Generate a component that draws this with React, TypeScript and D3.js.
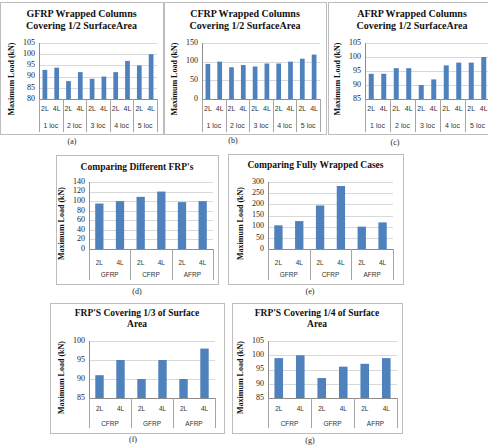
import React from 'react';
import * as d3 from 'd3';

// Category labels
const locGroups = ['1 loc', '2 loc', '3 loc', '4 loc', '5 loc'];
const layerLabels = ['2L', '4L'];
const frpOrderGCA = ['GFRP', 'CFRP', 'AFRP'];
const frpOrderCGA = ['CFRP', 'GFRP', 'AFRP'];

// Maximum load (kN), ordered group by group, 2L then 4L
const gfrpHalf = [93, 94, 88, 92, 89, 90, 92, 97, 95, 100];
const cfrpHalf = [94, 100, 85, 91, 87, 95, 95, 100, 108, 119];
const afrpHalf = [94, 94, 96, 96, 90, 92, 97, 98, 98, 100];
const differentFrp = [95, 100, 109, 120, 98, 100];
const fullyWrapped = [106, 125, 195, 282, 100, 119];
const thirdSurface = [91, 95, 90, 95, 90, 98];
const quarterSurface = [99, 100, 92, 96, 97, 99];

// Value-axis ticks
const ticksGfrpHalf = [80, 85, 90, 95, 100, 105];
const ticksCfrpHalf = [0, 50, 100, 150];
const ticksAfrpHalf = [85, 90, 95, 100, 105];
const ticksDifferent = [0, 20, 40, 60, 80, 100, 120, 140];
const ticksFully = [0, 50, 100, 150, 200, 250, 300];
const ticksThird = [85, 90, 95, 100];
const ticksQuarter = [85, 90, 95, 100, 105];

const BAR = '#4f81bd';
const SERIF = "'Liberation Serif', 'Times New Roman', serif";
const SANS = "'Liberation Sans', Arial, sans-serif";

type Box = { x0: number; y0: number; x1: number; y1: number };
type Plot = { l: number; r: number; t: number; b: number };

interface PanelProps {
  box: Box;
  plot: Plot;
  title: string[];
  titleY: number[];
  titleSize: number;
  groups: string[];
  values: number[];
  ticks: number[];
  caption: string;
  captionX: number;
  captionY: number;
  rowY: [number, number];
  depth: number;
  labelSize: number;
}

function Panel(p: PanelProps) {
  const { box, plot, groups, values, ticks } = p;
  const outer = d3.scaleBand<string>().domain(groups).range([plot.l, plot.r]).padding(0);
  const bars = d3
    .scaleBand<string>()
    .domain(layerLabels)
    .range([0, outer.bandwidth()])
    .paddingInner(0.6)
    .paddingOuter(0.3);
  const slots = d3.scaleBand<string>().domain(layerLabels).range([0, outer.bandwidth()]);
  const y = d3
    .scaleLinear()
    .domain([ticks[0], ticks[ticks.length - 1]])
    .range([plot.b, plot.t]);

  const boundaries = groups.map((g) => outer(g) as number).concat([plot.r]);
  const titleCx = (box.x0 + box.x1) / 2;

  return (
    <g>
      <rect
        x={box.x0 + 0.5}
        y={box.y0 + 0.5}
        width={box.x1 - box.x0}
        height={box.y1 - box.y0}
        fill="#ffffff"
        stroke="#bdbdbd"
        strokeWidth={1}
      />
      {p.title.map((t, i) => (
        <text
          key={i}
          x={titleCx}
          y={p.titleY[i]}
          textAnchor="middle"
          dominantBaseline="middle"
          fontFamily={SERIF}
          fontWeight="bold"
          fontSize={p.titleSize}
          fill="#111"
        >
          {t}
        </text>
      ))}
      {/* gridlines */}
      {ticks.slice(1).map((t) => (
        <line
          key={'g' + t}
          x1={plot.l}
          x2={plot.r}
          y1={Math.round(y(t)) + 0.5}
          y2={Math.round(y(t)) + 0.5}
          stroke="#d9d9d9"
          strokeWidth={1}
        />
      ))}
      {/* value-axis tick labels */}
      {ticks.map((t) => (
        <text
          key={'t' + t}
          x={plot.l - 4}
          y={y(t)}
          textAnchor="end"
          dominantBaseline="middle"
          fontFamily={SERIF}
          fontSize={8}
          fill="#222"
        >
          {t}
        </text>
      ))}
      <text
        transform={`translate(${plot.l - 27},${(plot.t + plot.b) / 2 + 8}) rotate(-90)`}
        textAnchor="middle"
        dominantBaseline="middle"
        fontFamily={SERIF}
        fontWeight="bold"
        fontSize={8}
        fill="#111"
      >
        Maximum Load (kN)
      </text>
      {/* bars */}
      {values.map((v, i) => {
        const g = groups[Math.floor(i / 2)];
        const layer = layerLabels[i % 2];
        const x = (outer(g) as number) + (bars(layer) as number);
        return (
          <rect key={'b' + i} x={x} y={y(v)} width={bars.bandwidth()} height={plot.b - y(v)} fill={BAR} />
        );
      })}
      {/* axes */}
      <line x1={plot.l} x2={plot.r} y1={plot.b + 0.5} y2={plot.b + 0.5} stroke="#8c8c8c" />
      <line x1={plot.l + 0.5} x2={plot.l + 0.5} y1={plot.t} y2={plot.b} stroke="#8c8c8c" />
      {boundaries.map((bx, i) => (
        <line
          key={'d' + i}
          x1={Math.round(bx) + 0.5}
          x2={Math.round(bx) + 0.5}
          y1={plot.b}
          y2={plot.b + p.depth}
          stroke="#a6a6a6"
        />
      ))}
      {groups.map((g) => (
        <g key={'c' + g}>
          {layerLabels.map((l) => (
            <text
              key={l}
              x={(outer(g) as number) + (slots(l) as number) + slots.bandwidth() / 2}
              y={p.rowY[0]}
              textAnchor="middle"
              dominantBaseline="middle"
              fontFamily={SANS}
              fontSize={p.labelSize}
              fill="#333"
            >
              {l}
            </text>
          ))}
          <text
            x={(outer(g) as number) + outer.bandwidth() / 2}
            y={p.rowY[1]}
            textAnchor="middle"
            dominantBaseline="middle"
            fontFamily={SANS}
            fontSize={p.labelSize}
            fill="#333"
          >
            {g}
          </text>
        </g>
      ))}
      <text
        x={p.captionX}
        y={p.captionY}
        textAnchor="middle"
        dominantBaseline="middle"
        fontFamily={SERIF}
        fontSize={8}
        fill="#222"
      >
        {p.caption}
      </text>
    </g>
  );
}

export default function App() {
  return (
    <svg
      width={488}
      height={448}
      viewBox="0 0 488 448"
      style={{ position: 'absolute', left: 0, top: 0, background: '#fff' }}
    >
      <rect x={0} y={0} width={488} height={448} fill="#fff" />
      <Panel
        box={{ x0: 0, y0: 2, x1: 163, y1: 134 }}
        plot={{ l: 39, r: 157, t: 43, b: 99 }}
        title={['GFRP Wrapped Columns', 'Covering 1/2  SurfaceArea']}
        titleY={[15, 27]}
        titleSize={10}
        groups={locGroups}
        values={gfrpHalf}
        ticks={ticksGfrpHalf}
        caption="(a)"
        captionX={72}
        captionY={142}
        rowY={[109, 126]}
        depth={33}
        labelSize={7}
      />
      <Panel
        box={{ x0: 164, y0: 2, x1: 326, y1: 134 }}
        plot={{ l: 202, r: 320, t: 43, b: 99 }}
        title={['CFRP Wrapped Columns', 'Covering 1/2  SurfaceArea']}
        titleY={[15, 27]}
        titleSize={10}
        groups={locGroups}
        values={cfrpHalf}
        ticks={ticksCfrpHalf}
        caption="(b)"
        captionX={233}
        captionY={141}
        rowY={[109, 126]}
        depth={33}
        labelSize={7}
      />
      <Panel
        box={{ x0: 328, y0: 2, x1: 496, y1: 134 }}
        plot={{ l: 365, r: 490, t: 43, b: 99 }}
        title={['AFRP Wrapped Columns', 'Covering 1/2  SurfaceArea']}
        titleY={[15, 27]}
        titleSize={10}
        groups={locGroups}
        values={afrpHalf}
        ticks={ticksAfrpHalf}
        caption="(c)"
        captionX={395}
        captionY={143}
        rowY={[109, 126]}
        depth={33}
        labelSize={7}
      />
      <Panel
        box={{ x0: 56, y0: 155, x1: 218, y1: 284 }}
        plot={{ l: 89, r: 213, t: 182, b: 249 }}
        title={["Comparing Different FRP's"]}
        titleY={[168]}
        titleSize={9.5}
        groups={frpOrderGCA}
        values={differentFrp}
        ticks={ticksDifferent}
        caption="(d)"
        captionX={137}
        captionY={292}
        rowY={[263, 275]}
        depth={31}
        labelSize={6.5}
      />
      <Panel
        box={{ x0: 228, y0: 154, x1: 403, y1: 284 }}
        plot={{ l: 268, r: 393, t: 182, b: 249 }}
        title={['Comparing Fully Wrapped Cases']}
        titleY={[166]}
        titleSize={9.5}
        groups={frpOrderGCA}
        values={fullyWrapped}
        ticks={ticksFully}
        caption="(e)"
        captionX={310}
        captionY={292}
        rowY={[263, 275]}
        depth={31}
        labelSize={6.5}
      />
      <Panel
        box={{ x0: 50, y0: 303, x1: 224, y1: 433 }}
        plot={{ l: 89, r: 215, t: 341, b: 398 }}
        title={["FRP'S Covering 1/3 of Surface", 'Area']}
        titleY={[314, 325]}
        titleSize={9.5}
        groups={frpOrderCGA}
        values={thirdSurface}
        ticks={ticksThird}
        caption="(f)"
        captionX={133}
        captionY={440}
        rowY={[409, 424]}
        depth={30}
        labelSize={6.5}
      />
      <Panel
        box={{ x0: 232, y0: 303, x1: 402, y1: 433 }}
        plot={{ l: 268, r: 397, t: 341, b: 398 }}
        title={["FRP'S Covering 1/4 of Surface", 'Area']}
        titleY={[314, 325]}
        titleSize={9.5}
        groups={frpOrderCGA}
        values={quarterSurface}
        ticks={ticksQuarter}
        caption="(g)"
        captionX={310}
        captionY={441}
        rowY={[409, 424]}
        depth={30}
        labelSize={6.5}
      />
    </svg>
  );
}
